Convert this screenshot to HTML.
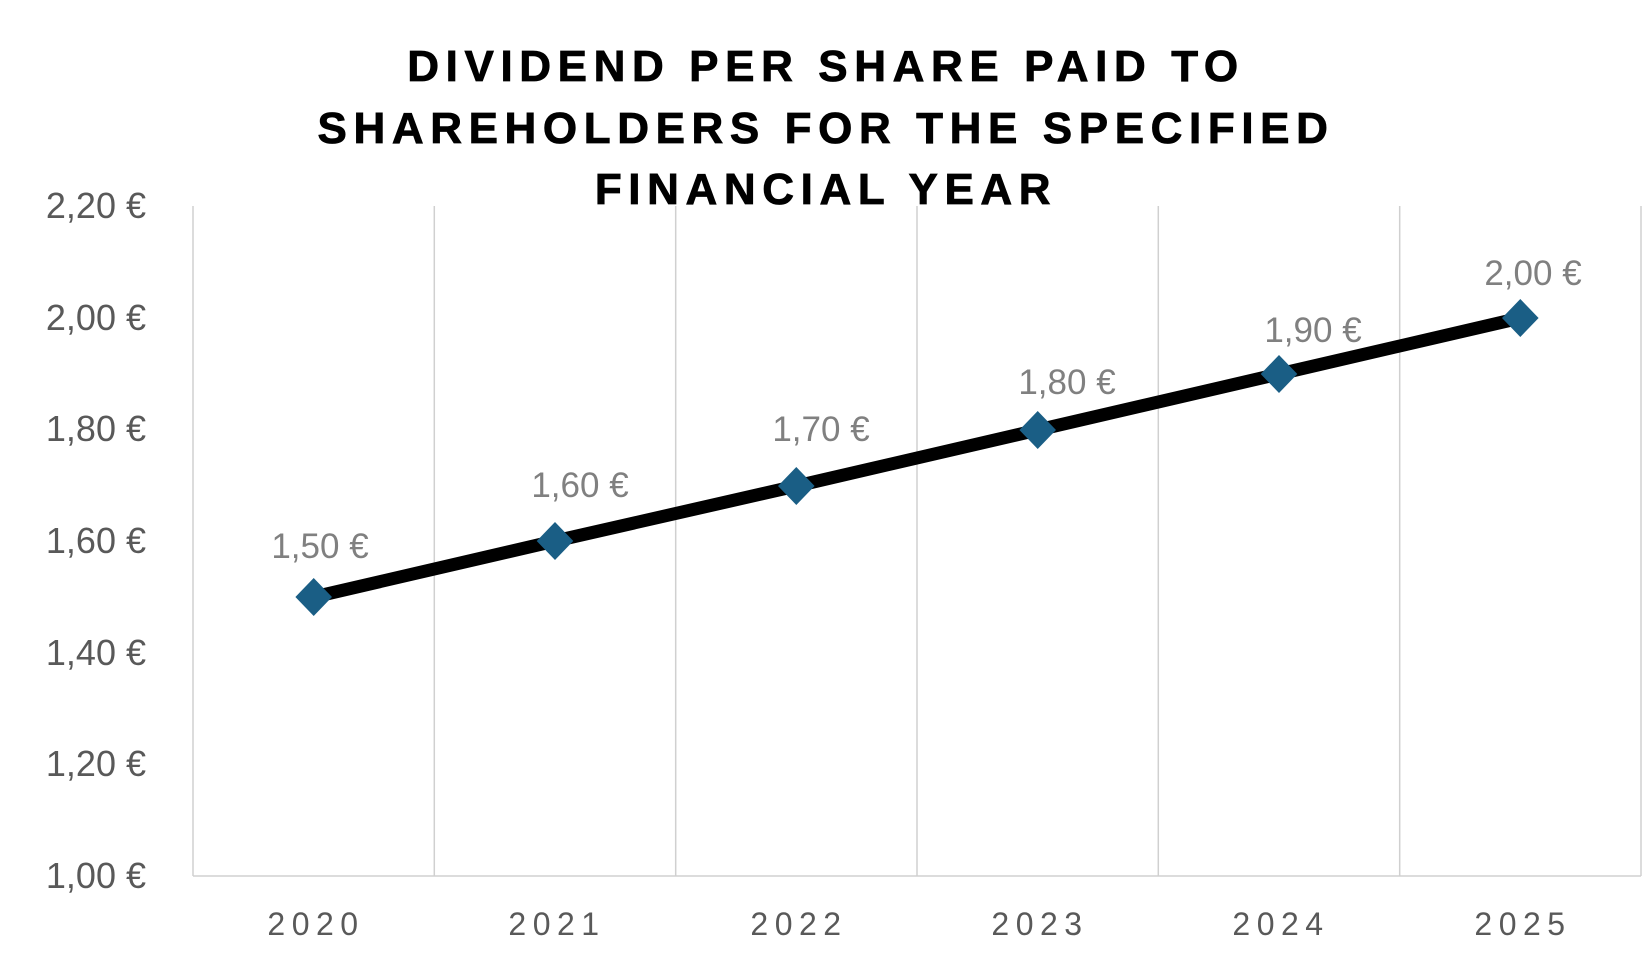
<!DOCTYPE html>
<html><head><meta charset="utf-8"><style>
body{margin:0;background:#fff;}
svg text{font-family:"Liberation Sans",sans-serif;}
</style></head><body>
<svg width="1650" height="973" viewBox="0 0 1650 973" xmlns="http://www.w3.org/2000/svg">
<rect width="1650" height="973" fill="#fff"/>
<g stroke="#d0d0d0" stroke-width="1.5">
<line x1="193" y1="206" x2="193" y2="876"/>
<line x1="434.3" y1="206" x2="434.3" y2="876"/>
<line x1="675.7" y1="206" x2="675.7" y2="876"/>
<line x1="917" y1="206" x2="917" y2="876"/>
<line x1="1158.3" y1="206" x2="1158.3" y2="876"/>
<line x1="1399.7" y1="206" x2="1399.7" y2="876"/>
<line x1="1641" y1="206" x2="1641" y2="876"/>
<line x1="193" y1="876" x2="1641" y2="876"/>
</g>
<g font-weight="bold" font-size="44" fill="#000" text-anchor="middle" letter-spacing="6.6" stroke="#000" stroke-width="0.8">
<text x="826" y="81">DIVIDEND PER SHARE PAID TO</text>
<text x="826" y="143">SHAREHOLDERS FOR THE SPECIFIED</text>
<text x="826" y="204">FINANCIAL YEAR</text>
</g>
<g font-size="36" fill="#595959" text-anchor="end">
<text x="146" y="218">2,20 €</text>
<text x="146" y="330">2,00 €</text>
<text x="146" y="441">1,80 €</text>
<text x="146" y="553">1,60 €</text>
<text x="146" y="665">1,40 €</text>
<text x="146" y="776">1,20 €</text>
<text x="146" y="888">1,00 €</text>
</g>
<g font-size="32" fill="#595959" text-anchor="middle" letter-spacing="6.5">
<text x="316" y="935">2020</text>
<text x="557" y="935">2021</text>
<text x="799" y="935">2022</text>
<text x="1040" y="935">2023</text>
<text x="1281" y="935">2024</text>
<text x="1523" y="935">2025</text>
</g>
<polyline points="313.7,597 555,541 796.3,486 1037.7,430 1279,374 1520.3,318" fill="none" stroke="#000" stroke-width="13" stroke-linejoin="round"/>
<g fill="#1a5e85">
<polygon points="313.7,578 332,597 313.7,616 295.4,597"/>
<polygon points="555,522 573.3,541 555,560 536.7,541"/>
<polygon points="796.3,467 814.6,486 796.3,505 778,486"/>
<polygon points="1037.7,411 1056,430 1037.7,449 1019.4,430"/>
<polygon points="1279,355 1297.3,374 1279,393 1260.7,374"/>
<polygon points="1520.3,299 1538.6,318 1520.3,337 1502,318"/>
</g>
<g font-size="35" fill="#808080" text-anchor="middle">
<text x="320" y="558">1,50 €</text>
<text x="580" y="497">1,60 €</text>
<text x="821" y="441">1,70 €</text>
<text x="1067" y="394">1,80 €</text>
<text x="1313" y="342">1,90 €</text>
<text x="1533" y="285">2,00 €</text>
</g>
</svg>
</body></html>
